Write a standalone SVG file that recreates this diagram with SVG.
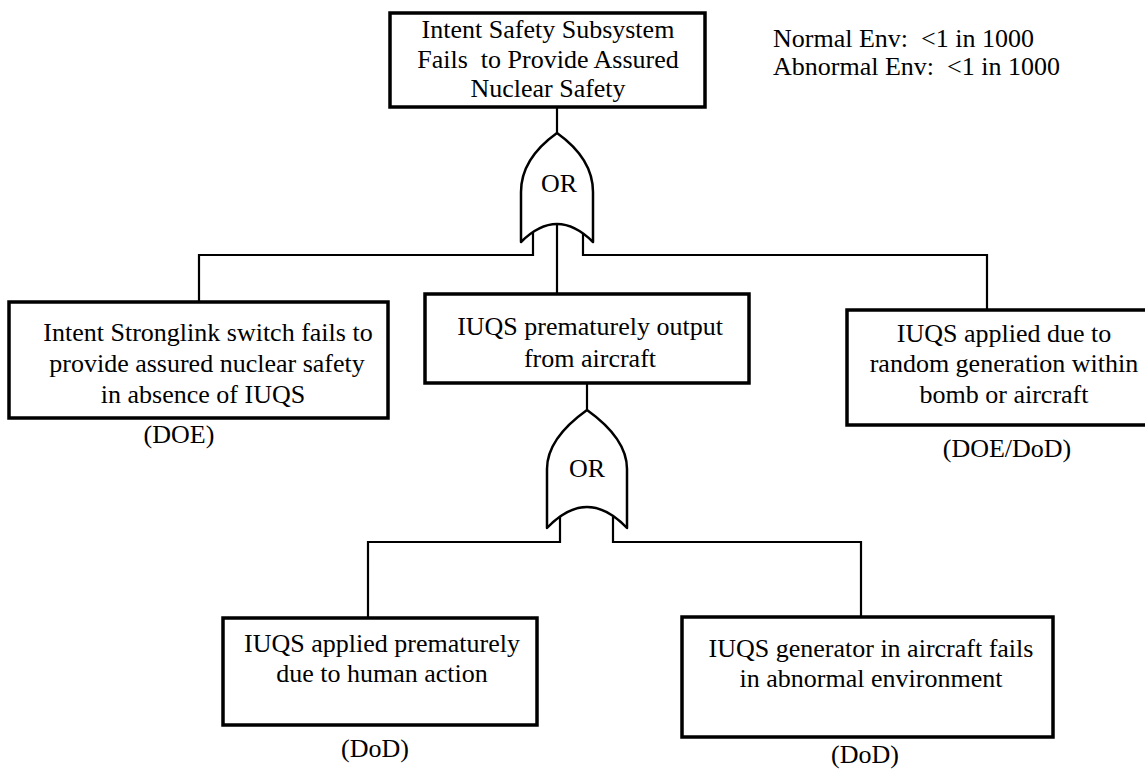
<svg xmlns="http://www.w3.org/2000/svg" width="1145" height="770" viewBox="0 0 1145 770">
<style>
.box{fill:#fff;stroke:#000;stroke-width:3.5}
.gate{fill:#fff;stroke:#000;stroke-width:2.5;stroke-linejoin:round}
.ln{fill:none;stroke:#000;stroke-width:2.2}
text{font-family:"Liberation Serif","Times New Roman",serif;font-size:26px;fill:#000;text-anchor:middle}
.note{text-anchor:start;font-size:26px}
</style>
<rect width="1145" height="770" fill="#fff"/>
<g id="connectors">
<path class="ln" d="M557,107 V133"/>
<path class="ln" d="M199,302 V255 H533 V232"/>
<path class="ln" d="M987,310 V255 H583 V232"/>
<path class="ln" d="M557,225 V294"/>
<path class="ln" d="M587,383 V410"/>
<path class="ln" d="M368,618 V542 H560 V517"/>
<path class="ln" d="M861,617 V542 H613 V517"/>
</g>
<g id="top">
<rect class="box" x="390" y="13" width="315" height="94"/>
<text x="548" y="38">Intent Safety Subsystem</text>
<text x="548" y="68" xml:space="preserve">Fails  to Provide Assured</text>
<text x="548" y="97">Nuclear Safety</text>
</g>
<g id="note">
<text class="note" x="773" y="47" xml:space="preserve">Normal Env:  &lt;1 in 1000</text>
<text class="note" x="773" y="75" xml:space="preserve">Abnormal Env:  &lt;1 in 1000</text>
</g>
<g id="gate1">
<path class="gate" d="M557,133 C536,148 521,168 521,192 L521,242 Q557,206 593,242 L593,192 C593,168 578,148 557,133 Z"/>
<text x="559" y="192">OR</text>
</g>
<g id="left">
<rect class="box" x="9" y="302" width="379" height="116"/>
<text x="208" y="341">Intent Stronglink switch fails to</text>
<text x="207" y="372">provide assured nuclear safety</text>
<text x="203" y="403">in absence of IUQS</text>
<text x="179" y="443">(DOE)</text>
</g>
<g id="middle">
<rect class="box" x="425" y="294" width="324" height="89"/>
<text x="590" y="335">IUQS prematurely output</text>
<text x="590" y="367">from aircraft</text>
</g>
<g id="right">
<rect class="box" x="847" y="310" width="320" height="115"/>
<text x="1004" y="342">IUQS applied due to</text>
<text x="1004" y="372">random generation within</text>
<text x="1004" y="403">bomb or aircraft</text>
<text x="1007" y="457">(DOE/DoD)</text>
</g>
<g id="gate2">
<path class="gate" d="M587,410 C566,425 547,445 547,469 L547,528 Q587,486 627,528 L627,469 C627,445 608,425 587,410 Z"/>
<text x="587" y="477">OR</text>
</g>
<g id="bottomleft">
<rect class="box" x="223" y="618" width="314" height="107"/>
<text x="382" y="652">IUQS applied prematurely</text>
<text x="382" y="682">due to human action</text>
<text x="375" y="757">(DoD)</text>
</g>
<g id="bottomright">
<rect class="box" x="682" y="617" width="371" height="120"/>
<text x="871" y="657">IUQS generator in aircraft fails</text>
<text x="871" y="687">in abnormal environment</text>
<text x="865" y="763">(DoD)</text>
</g>
</svg>
